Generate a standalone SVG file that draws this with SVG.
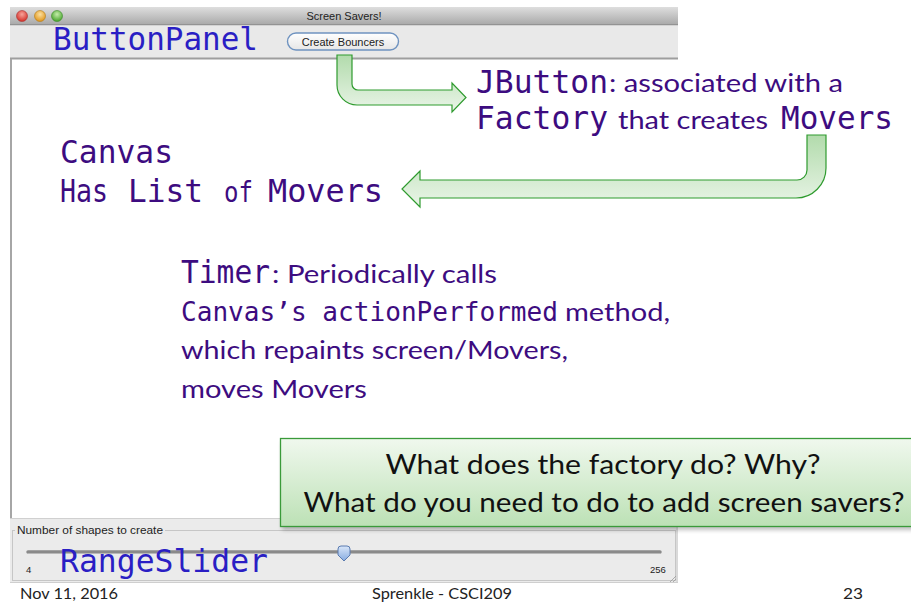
<svg xmlns="http://www.w3.org/2000/svg" width="911" height="605" viewBox="0 0 911 605">
<defs>
  <linearGradient id="titleG" x1="0" y1="0" x2="0" y2="1">
    <stop offset="0" stop-color="#dedede"/><stop offset="1" stop-color="#a8a8a8"/>
  </linearGradient>
  <linearGradient id="arrowG" x1="0" y1="0" x2="0" y2="1">
    <stop offset="0" stop-color="#b2dbac"/><stop offset="1" stop-color="#eaf5e8"/>
  </linearGradient>
  <linearGradient id="boxG" x1="0" y1="0" x2="0" y2="1">
    <stop offset="0" stop-color="#f0f8ee"/><stop offset="1" stop-color="#bce1b5"/>
  </linearGradient>
  <linearGradient id="btnG" x1="0" y1="0" x2="0" y2="1">
    <stop offset="0" stop-color="#ffffff"/><stop offset="1" stop-color="#e6e6e6"/>
  </linearGradient>
  <linearGradient id="thumbG" x1="0" y1="0" x2="0" y2="1">
    <stop offset="0" stop-color="#d8e6f9"/><stop offset="1" stop-color="#86abe0"/>
  </linearGradient>
  <radialGradient id="redG" cx="0.5" cy="0.35" r="0.6"><stop offset="0" stop-color="#f7a39a"/><stop offset="1" stop-color="#d6372f"/></radialGradient>
  <radialGradient id="orgG" cx="0.5" cy="0.35" r="0.6"><stop offset="0" stop-color="#fbe0a0"/><stop offset="1" stop-color="#e39a22"/></radialGradient>
  <radialGradient id="grnG" cx="0.5" cy="0.35" r="0.6"><stop offset="0" stop-color="#c4ecaa"/><stop offset="1" stop-color="#4ea832"/></radialGradient>
  <filter id="shadow" x="-5%" y="-20%" width="110%" height="150%">
    <feGaussianBlur stdDeviation="2"/>
  </filter>
</defs>
<style>
  .mono { font-family: "DejaVu Sans Mono", "Liberation Mono", monospace; }
  .sans { font-family: "Lato", "Open Sans", "Liberation Sans", sans-serif; }
  .ui { font-family: "Liberation Sans", "DejaVu Sans", sans-serif; fill: #222; }
  .purple { fill: #3d0c80; }
  .blue { fill: #2a1ec4; }
  .arrow { fill: url(#arrowG); stroke: #2f9b2f; stroke-width: 1.2; }
  .foot { font-family: "Lato", "Open Sans", "Liberation Sans", sans-serif; font-size: 15px; fill: #222; }
</style>

<!-- window chrome -->
<g id="window">
  <rect x="10" y="7" width="668" height="18" fill="url(#titleG)"/>
  <line x1="10" y1="25" x2="678" y2="25" stroke="#7c7c7c" stroke-width="1"/>
  <circle cx="22" cy="16" r="5.5" fill="url(#redG)" stroke="#a33" stroke-width="0.6"/>
  <circle cx="40" cy="16" r="5.5" fill="url(#orgG)" stroke="#b07a1a" stroke-width="0.6"/>
  <circle cx="57" cy="16" r="5.5" fill="url(#grnG)" stroke="#3a8a2a" stroke-width="0.6"/>
  <text x="344" y="20" text-anchor="middle" class="ui" font-size="11">Screen Savers!</text>
  <rect x="10" y="25.5" width="668" height="32.5" fill="#e9e9e9"/>
  <line x1="10" y1="58.5" x2="678" y2="58.5" stroke="#9e9e9e" stroke-width="2"/>
  <line x1="11" y1="59" x2="11" y2="518" stroke="#a6a6a6" stroke-width="2"/>
</g>

<g id="createButton">
  <rect x="287.5" y="33" width="111" height="17" rx="8.5" fill="url(#btnG)" stroke="#6f93c0" stroke-width="1.4"/>
  <text x="343" y="45.5" text-anchor="middle" class="ui" font-size="11">Create Bouncers</text>
</g>

<g id="buttonPanel">
  <text x="53" y="50" class="mono blue" font-size="32" textLength="205" lengthAdjust="spacingAndGlyphs">ButtonPanel</text>
</g>

<!-- bottom panel -->
<g id="rangeSliderPanel">
  <rect x="10" y="518" width="668" height="65" fill="#ebebeb"/>
  <line x1="10" y1="518.5" x2="678" y2="518.5" stroke="#d0d0d0"/>
  <rect x="12.5" y="530.5" width="663" height="50" fill="none" stroke="#c6c6c6"/>
  <rect x="15" y="524" width="150" height="12" fill="#ebebeb"/>
  <text x="17" y="533.5" class="ui" font-size="10.5" textLength="146" lengthAdjust="spacingAndGlyphs">Number of shapes to create</text>
  <line x1="28" y1="552" x2="660" y2="552" stroke="#8a8a8a" stroke-width="3.5" stroke-linecap="round"/>
  <line x1="28" y1="553.5" x2="660" y2="553.5" stroke="#b8b8b8" stroke-width="1"/>
  <path d="M338,549 Q338,546 341,546 H347 Q350,546 350,549 V555 L344,561 L338,555 Z" fill="url(#thumbG)" stroke="#5a7bb0" stroke-width="1"/>
  <text x="26" y="573" class="ui" font-size="9.5">4</text>
  <text x="650" y="573" class="ui" font-size="9.5">256</text>
  <line x1="677" y1="518" x2="677" y2="583" stroke="#c8c8c8"/>
  <line x1="10" y1="582.5" x2="678" y2="582.5" stroke="#cfcfcf"/>
  <path d="M670,582 L676,576 M673,582 L676,579" stroke="#9a9a9a" stroke-width="0.8"/>
  <text x="60" y="572" class="mono blue" font-size="32" textLength="208" lengthAdjust="spacingAndGlyphs">RangeSlider</text>
</g>

<!-- labels -->
<g id="jbutton">
  <text x="476" y="93" class="mono purple" font-size="32" textLength="132" lengthAdjust="spacingAndGlyphs">JButton</text>
  <text x="609" y="92" class="sans purple" font-size="25" textLength="234" lengthAdjust="spacingAndGlyphs">: associated with a</text>
  <text x="476" y="129" class="mono purple" font-size="32" textLength="132" lengthAdjust="spacingAndGlyphs">Factory</text>
  <text x="618" y="129" class="sans purple" font-size="25" textLength="150" lengthAdjust="spacingAndGlyphs">that creates</text>
  <text x="781" y="129" class="mono purple" font-size="32" textLength="112" lengthAdjust="spacingAndGlyphs">Movers</text>
</g>

<g id="canvas">
  <text x="60" y="163" class="mono purple" font-size="32" textLength="113" lengthAdjust="spacingAndGlyphs">Canvas</text>
  <text x="60" y="202" class="mono purple" font-size="32" textLength="48" lengthAdjust="spacingAndGlyphs">Has</text>
  <text x="128" y="202" class="mono purple" font-size="32" textLength="75" lengthAdjust="spacingAndGlyphs">List</text>
  <text x="224" y="202" class="mono purple" font-size="28" textLength="29" lengthAdjust="spacingAndGlyphs">of</text>
  <text x="268" y="202" class="mono purple" font-size="32" textLength="115" lengthAdjust="spacingAndGlyphs">Movers</text>
</g>

<g id="timer">
  <text x="181" y="283" class="mono purple" font-size="32" textLength="89" lengthAdjust="spacingAndGlyphs">Timer</text>
  <text x="272" y="283" class="sans purple" font-size="25" textLength="225" lengthAdjust="spacingAndGlyphs">: Periodically calls</text>
  <text x="181" y="321" class="mono purple" font-size="26" textLength="377" lengthAdjust="spacingAndGlyphs">Canvas’s actionPerformed</text>
  <text x="565" y="321" class="sans purple" font-size="25" textLength="105" lengthAdjust="spacingAndGlyphs">method,</text>
  <text x="181" y="359" class="sans purple" font-size="25" textLength="387" lengthAdjust="spacingAndGlyphs">which repaints screen/Movers,</text>
  <text x="181" y="398" class="sans purple" font-size="25" textLength="186" lengthAdjust="spacingAndGlyphs">moves Movers</text>
</g>

<!-- connectors -->
<g id="connectors">
  <path class="arrow" d="M337,55 H352 V84 A6,6 0 0 0 358,90 H452 V83 L466,97.5 L452,112 V105 H357 A20,20 0 0 1 337,85 Z"/>
  <path class="arrow" d="M807,135 H826 V168 A30,30 0 0 1 796,198 H420 V207 L402,189 L420,171 V180 H797 A10,10 0 0 0 807,170 Z"/>
</g>

<g id="questionBox">
  <rect x="282" y="442" width="640" height="88" fill="#000" opacity="0.25" filter="url(#shadow)"/>
  <rect x="280.5" y="438.5" width="640" height="88" fill="url(#boxG)" stroke="#3a9a3a" stroke-width="1.3"/>
  <text x="603" y="474" text-anchor="middle" class="sans" font-size="27" fill="#111" textLength="435" lengthAdjust="spacingAndGlyphs">What does the factory do?  Why?</text>
  <text x="604" y="512" text-anchor="middle" class="sans" font-size="27" fill="#111" textLength="601" lengthAdjust="spacingAndGlyphs">What do you need to do to add screen savers?</text>
</g>

<g id="footer">
  <text x="20" y="599" class="foot" textLength="98" lengthAdjust="spacingAndGlyphs">Nov 11, 2016</text>
  <text x="372" y="599" class="foot" textLength="140" lengthAdjust="spacingAndGlyphs">Sprenkle - CSCI209</text>
  <text x="843" y="599" class="foot" textLength="20" lengthAdjust="spacingAndGlyphs">23</text>
</g>
</svg>
